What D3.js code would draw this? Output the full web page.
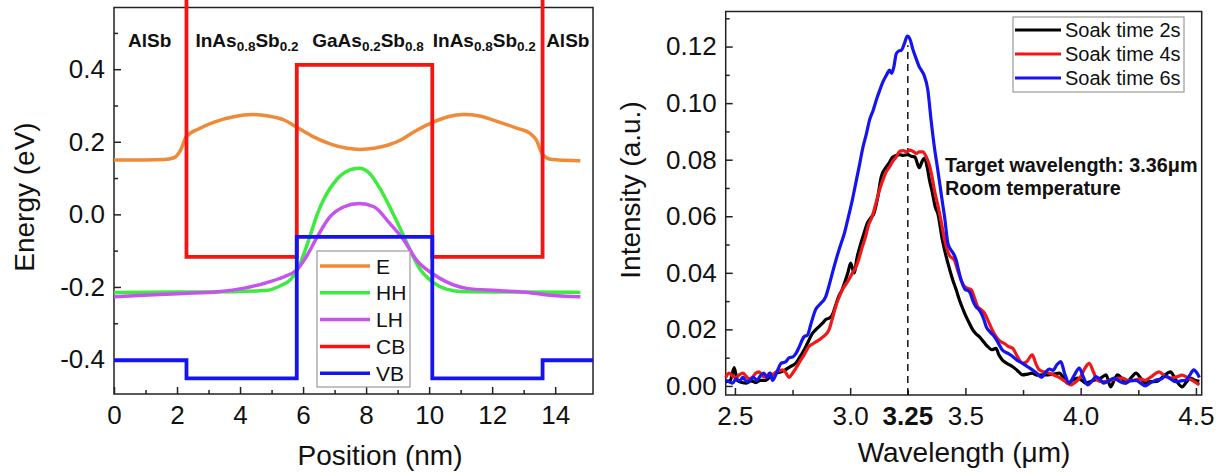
<!DOCTYPE html>
<html>
<head>
<meta charset="utf-8">
<script src="https://cdn.jsdelivr.net/npm/d3@7"></script>
<style>
  body { margin: 0; background: #fff; }
  svg { display: block; font-family: "Liberation Sans", Arial, sans-serif; }
</style>
</head>
<body>
<script>
const width = 1226,
    height = 473;

// ---- band diagram data (left) ----
const layerEdges = [0, 2.3, 5.8, 10.1, 13.6, 15.2];
const cbLevels = [1.2, -0.117, 0.412, -0.117, 1.2];
const vbLevels = [-0.402, -0.452, -0.062, -0.452, -0.402];
const layerNames = ["AlSb", "InAs{0.8}Sb{0.2}", "GaAs{0.2}Sb{0.8}", "InAs{0.8}Sb{0.2}", "AlSb"];
const layerLabelPos = [1.13, 4.22, 8.06, 11.75, 14.4];

const ePos = [0, 1.0, 1.6, 1.9, 2.1, 2.3, 2.7, 3.2, 3.8, 4.4, 4.9, 5.4, 5.8, 6.3, 6.9, 7.4, 7.8, 8.3, 8.7, 9.1, 9.5, 9.9, 10.1, 10.6, 11.1, 11.6, 12.2, 12.8, 13.2, 13.4, 13.6, 13.9, 14.3, 14.8];
const eVal = [0.150, 0.150, 0.151, 0.156, 0.175, 0.215, 0.236, 0.255, 0.269, 0.275, 0.271, 0.260, 0.240, 0.215, 0.193, 0.182, 0.179, 0.183, 0.191, 0.205, 0.226, 0.245, 0.253, 0.269, 0.275, 0.271, 0.255, 0.237, 0.223, 0.205, 0.165, 0.151, 0.149, 0.148];

const hhPos = [0, 2, 3.8, 4.8, 5.3, 5.6, 5.8, 6.0, 6.2, 6.45, 6.65, 7.05, 7.45, 7.78, 8.1, 8.5, 8.95, 9.3, 9.7, 10.1, 10.55, 11.1, 12.5, 14.8];
const hhVal = [-0.215, -0.214, -0.213, -0.210, -0.196, -0.180, -0.155, -0.115, -0.065, 0.000, 0.040, 0.094, 0.121, 0.127, 0.114, 0.062, -0.015, -0.080, -0.150, -0.186, -0.206, -0.213, -0.214, -0.215];

const lhPos = [0, 1.1, 2.2, 3.3, 4.1, 4.85, 5.4, 5.8, 6.1, 6.45, 6.85, 7.3, 7.78, 8.25, 8.75, 9.2, 9.6, 10.1, 10.55, 11.2, 12.15, 13.2, 13.75, 14.8];
const lhVal = [-0.227, -0.222, -0.218, -0.213, -0.204, -0.188, -0.172, -0.153, -0.117, -0.062, -0.007, 0.021, 0.030, 0.021, -0.025, -0.071, -0.126, -0.163, -0.186, -0.204, -0.210, -0.216, -0.222, -0.227];

const bandNames = ["E", "HH", "LH", "CB", "VB"];
const bandColors = ["#ef8a38", "#3fea3f", "#c653ef", "#f41414", "#1414f0"];

// ---- PL spectra data (right) ----
const wl2s = [2.46, 2.48, 2.497, 2.51, 2.53, 2.55, 2.57, 2.59, 2.61, 2.634, 2.655, 2.677, 2.70, 2.72, 2.74, 2.764, 2.78, 2.80, 2.82, 2.836, 2.85, 2.865, 2.88, 2.894, 2.91, 2.923, 2.935, 2.95, 2.965, 2.98, 2.99, 3.002, 3.017, 3.03, 3.045, 3.06, 3.074, 3.09, 3.103, 3.118, 3.135, 3.157, 3.17, 3.185, 3.20, 3.214, 3.23, 3.25, 3.265, 3.28, 3.30, 3.31, 3.32, 3.335, 3.344, 3.355, 3.37, 3.38, 3.40, 3.424, 3.445, 3.46, 3.474, 3.49, 3.503, 3.518, 3.532, 3.545, 3.56, 3.58, 3.597, 3.615, 3.633, 3.645, 3.66, 3.68, 3.705, 3.725, 3.748, 3.77, 3.79, 3.81, 3.835, 3.85, 3.88, 3.907, 3.925, 3.943, 3.965, 3.986, 4.005, 4.022, 4.04, 4.058, 4.08, 4.095, 4.11, 4.13, 4.145, 4.16, 4.18, 4.196, 4.22, 4.24, 4.26, 4.28, 4.30, 4.33, 4.36, 4.39, 4.41, 4.44, 4.46, 4.477, 4.495, 4.515];
const int2s = [0.0015, 0.002, 0.0065, 0.002, 0.0012, 0.001, 0.0018, 0.0012, 0.002, 0.002, 0.0035, 0.0045, 0.005, 0.0058, 0.0068, 0.008, 0.010, 0.0127, 0.016, 0.0186, 0.0198, 0.021, 0.0222, 0.0235, 0.024, 0.0252, 0.028, 0.0316, 0.034, 0.0375, 0.040, 0.0434, 0.040, 0.0455, 0.050, 0.054, 0.0575, 0.0595, 0.061, 0.066, 0.074, 0.0775, 0.079, 0.081, 0.0815, 0.0818, 0.0815, 0.0818, 0.0812, 0.081, 0.0772, 0.079, 0.0805, 0.077, 0.0728, 0.069, 0.063, 0.061, 0.0516, 0.0434, 0.0375, 0.034, 0.0304, 0.027, 0.0245, 0.022, 0.0198, 0.0185, 0.0174, 0.0155, 0.0139, 0.0128, 0.0133, 0.011, 0.0092, 0.008, 0.0068, 0.0055, 0.0039, 0.0042, 0.0045, 0.0038, 0.0039, 0.0039, 0.0042, 0.0045, 0.003, 0.001, 0.002, 0.0028, 0.002, 0.001, 0.0015, 0.002, 0.0025, 0.0032, 0.0039, -0.0003, 0.002, 0.0039, 0.0025, 0.001, 0.003, 0.0045, 0.0028, 0.001, 0.0015, 0.0016, 0.0035, 0.005, 0.0025, -0.0003, 0.0015, 0.0028, 0.002, 0.0016];

const wl4s = [2.46, 2.475, 2.49, 2.505, 2.52, 2.535, 2.548, 2.56, 2.575, 2.59, 2.605, 2.62, 2.635, 2.65, 2.663, 2.68, 2.695, 2.706, 2.72, 2.735, 2.75, 2.77, 2.786, 2.80, 2.82, 2.84, 2.865, 2.885, 2.908, 2.92, 2.937, 2.95, 2.966, 2.99, 3.01, 3.025, 3.038, 3.052, 3.067, 3.08, 3.096, 3.113, 3.13, 3.142, 3.155, 3.171, 3.185, 3.20, 3.215, 3.23, 3.245, 3.258, 3.272, 3.287, 3.30, 3.315, 3.33, 3.344, 3.355, 3.366, 3.38, 3.395, 3.41, 3.43, 3.452, 3.466, 3.481, 3.495, 3.51, 3.525, 3.54, 3.553, 3.568, 3.582, 3.604, 3.618, 3.633, 3.65, 3.669, 3.685, 3.705, 3.725, 3.748, 3.765, 3.79, 3.805, 3.82, 3.84, 3.864, 3.88, 3.90, 3.93, 3.958, 3.98, 4.0, 4.02, 4.037, 4.055, 4.073, 4.095, 4.12, 4.15, 4.18, 4.205, 4.23, 4.255, 4.28, 4.31, 4.34, 4.365, 4.39, 4.415, 4.44, 4.462, 4.484, 4.50, 4.515];
const int4s = [0.003, 0.0045, 0.0035, 0.003, 0.004, 0.0045, 0.0035, 0.0025, 0.003, 0.0045, 0.005, 0.0035, 0.003, 0.0045, 0.004, 0.005, 0.0055, 0.0057, 0.0048, 0.003, 0.0045, 0.007, 0.0092, 0.011, 0.0139, 0.015, 0.0163, 0.0175, 0.0198, 0.023, 0.028, 0.031, 0.034, 0.037, 0.040, 0.042, 0.045, 0.049, 0.0528, 0.057, 0.060, 0.065, 0.070, 0.0728, 0.0755, 0.0775, 0.0795, 0.081, 0.083, 0.0832, 0.0828, 0.0834, 0.083, 0.0822, 0.0828, 0.0828, 0.081, 0.078, 0.074, 0.069, 0.064, 0.058, 0.0516, 0.0462, 0.0445, 0.041, 0.0375, 0.0352, 0.0345, 0.034, 0.031, 0.028, 0.027, 0.0258, 0.022, 0.0195, 0.0174, 0.0158, 0.015, 0.014, 0.0133, 0.0105, 0.008, 0.0085, 0.011, 0.008, 0.0057, 0.005, 0.0045, 0.004, 0.0033, 0.0018, 0.0004, 0.0015, 0.0033, 0.0065, 0.008, 0.005, 0.002, 0.0015, 0.0018, 0.0025, 0.0028, 0.002, 0.002, 0.0025, 0.002, 0.0035, 0.005, 0.0035, 0.0028, 0.0032, 0.0038, 0.003, 0.002, 0.0012, 0.0004];

const wl6s = [2.46, 2.475, 2.49, 2.505, 2.52, 2.535, 2.55, 2.565, 2.58, 2.595, 2.61, 2.625, 2.64, 2.652, 2.663, 2.675, 2.69, 2.70, 2.72, 2.735, 2.75, 2.765, 2.78, 2.80, 2.815, 2.83, 2.85, 2.87, 2.894, 2.91, 2.923, 2.94, 2.959, 2.975, 2.99, 3.01, 3.027, 3.04, 3.056, 3.07, 3.084, 3.1, 3.113, 3.128, 3.142, 3.158, 3.171, 3.18, 3.19, 3.20, 3.212, 3.222, 3.235, 3.248, 3.26, 3.272, 3.285, 3.30, 3.31, 3.32, 3.337, 3.351, 3.366, 3.377, 3.387, 3.40, 3.41, 3.424, 3.438, 3.45, 3.46, 3.47, 3.481, 3.49, 3.50, 3.51, 3.52, 3.533, 3.546, 3.558, 3.568, 3.58, 3.59, 3.608, 3.626, 3.645, 3.66, 3.685, 3.705, 3.725, 3.748, 3.77, 3.79, 3.81, 3.83, 3.845, 3.864, 3.88, 3.897, 3.914, 3.93, 3.95, 3.97, 3.994, 4.01, 4.03, 4.05, 4.066, 4.085, 4.10, 4.125, 4.145, 4.165, 4.188, 4.215, 4.24, 4.26, 4.28, 4.30, 4.325, 4.35, 4.37, 4.39, 4.41, 4.435, 4.455, 4.475, 4.49, 4.505, 4.515];
const int6s = [0.002, 0.0015, 0.001, 0.0025, 0.0018, 0.003, 0.0015, 0.002, 0.003, 0.002, 0.0035, 0.0045, 0.003, 0.0045, 0.002, 0.0035, 0.0065, 0.008, 0.0085, 0.010, 0.0102, 0.0115, 0.014, 0.0174, 0.018, 0.022, 0.027, 0.029, 0.0316, 0.036, 0.040, 0.045, 0.050, 0.054, 0.059, 0.066, 0.0728, 0.078, 0.0846, 0.089, 0.094, 0.0975, 0.101, 0.1045, 0.1075, 0.110, 0.1117, 0.1105, 0.113, 0.1175, 0.1185, 0.1187, 0.121, 0.1237, 0.1225, 0.119, 0.116, 0.1128, 0.1115, 0.110, 0.1046, 0.094, 0.084, 0.078, 0.0725, 0.065, 0.0595, 0.0504, 0.048, 0.0465, 0.0445, 0.041, 0.0375, 0.0355, 0.034, 0.0338, 0.033, 0.030, 0.028, 0.027, 0.0258, 0.0235, 0.021, 0.019, 0.0174, 0.0148, 0.0127, 0.0115, 0.0104, 0.009, 0.008, 0.0068, 0.0057, 0.0045, 0.003, 0.0045, 0.006, 0.0055, 0.0075, 0.0086, 0.0045, 0.001, 0.0035, 0.0063, 0.0035, 0.0004, 0.0018, 0.0033, 0.0022, 0.001, 0.002, 0.0028, 0.0018, 0.001, 0.0018, 0.002, 0.001, 0.0, 0.001, 0.002, 0.0025, 0.0035, 0.0025, 0.0015, 0.0018, 0.002, 0.004, 0.0057, 0.0045, 0.003];

const seriesNames = ["Soak time 2s", "Soak time 4s", "Soak time 6s"];
const seriesColors = ["#000000", "#f01818", "#1414f0"];
const peakWavelength = 3.25;
const noteLines = ["Target wavelength: 3.36\u03bcm", "Room temperature"];

const svg = d3.select("body").append("svg")
    .attr("width", width)
    .attr("height", height);

// style an axis group: thick inward ticks, big labels, no domain path
function styleAxis(g, fontSize) {
    g.attr("font-size", null).attr("font-family", null);
    g.select(".domain").remove();
    g.selectAll(".tick line").attr("stroke", "#222").attr("stroke-width", 1.5);
    g.selectAll(".tick text").attr("fill", "#111").style("font-size", fontSize + "px");
}

const fmtDash = f => v => f(v).replace("\u2212", "-");

// =============== LEFT PANEL ===============
const xPos = d3.scaleLinear().domain([0, 15.2]).range([114, 593]);
const yEn = d3.scaleLinear().domain([-0.495, 0.57]).range([394, 7.5]);

svg.append("g").attr("transform", "translate(0,394)")
    .call(d3.axisBottom(xPos).tickValues(d3.range(1, 15, 2)).tickSize(-4).tickFormat(""))
    .call(g => styleAxis(g, 26));
svg.append("g").attr("transform", "translate(0,394)")
    .call(d3.axisBottom(xPos).tickValues(d3.range(0, 15, 2)).tickSize(-7).tickPadding(12).tickFormat(d3.format("d")))
    .call(g => styleAxis(g, 26));
svg.append("g").attr("transform", "translate(114,0)")
    .call(d3.axisLeft(yEn).tickValues([-0.3, -0.1, 0.1, 0.3, 0.5]).tickSize(-4).tickFormat(""))
    .call(g => styleAxis(g, 26));
svg.append("g").attr("transform", "translate(114,0)")
    .call(d3.axisLeft(yEn).tickValues([-0.4, -0.2, 0, 0.2, 0.4]).tickSize(-7).tickPadding(9).tickFormat(fmtDash(d3.format(".1f"))))
    .call(g => styleAxis(g, 26));

svg.append("rect")
    .attr("x", xPos(0)).attr("y", yEn(0.57))
    .attr("width", xPos(15.2) - xPos(0)).attr("height", yEn(-0.495) - yEn(0.57))
    .attr("fill", "none").attr("stroke", "#222").attr("stroke-width", 1.5);

const bandLine = d3.line().x(d => xPos(d[0])).y(d => yEn(d[1]));

function stepPoints(levels) {
    const pts = [];
    levels.forEach((v, i) => {
        pts.push([layerEdges[i], v]);
        pts.push([layerEdges[i + 1], v]);
    });
    return pts;
}

const bands = [
    { pts: d3.zip(ePos, eVal), curve: d3.curveMonotoneX },
    { pts: d3.zip(hhPos, hhVal), curve: d3.curveMonotoneX },
    { pts: d3.zip(lhPos, lhVal), curve: d3.curveMonotoneX },
    { pts: stepPoints(cbLevels), curve: d3.curveLinear },
    { pts: stepPoints(vbLevels), curve: d3.curveLinear }
];

svg.selectAll(".band")
    .data(bands)
    .enter()
    .append("path")
    .attr("class", "band")
    .attr("d", d => bandLine.curve(d.curve)(d.pts))
    .attr("fill", "none")
    .attr("stroke", (d, i) => bandColors[i])
    .attr("stroke-width", (d, i) => i < 3 ? 3.5 : 3.8);

// layer labels with subscripts
svg.selectAll(".layer")
    .data(layerNames)
    .enter()
    .append("text")
    .attr("class", "layer")
    .attr("x", (d, i) => xPos(layerLabelPos[i]))
    .attr("y", 47)
    .attr("text-anchor", "middle")
    .attr("font-weight", "bold")
    .attr("font-size", 19)
    .attr("fill", "#111")
    .each(function(d) {
        const t = d3.select(this);
        let sub = false;
        d.split(/[{}]/).forEach((s, k) => {
            if (!s.length) return;
            const isSub = k % 2 === 1;
            t.append("tspan")
                .attr("font-size", isSub ? 13.5 : 19)
                .attr("dy", isSub && !sub ? 4 : (!isSub && sub ? -4 : 0))
                .text(s);
            sub = isSub;
        });
    });

// band legend
const legL = svg.append("g");
legL.append("rect")
    .attr("x", 317).attr("y", 251).attr("width", 93).attr("height", 136)
    .attr("fill", "#fff").attr("stroke", "#999").attr("stroke-width", 1.2);
bandNames.forEach((name, i) => {
    const y = 266 + i * 26.8;
    legL.append("line")
        .attr("x1", 320).attr("x2", 370).attr("y1", y).attr("y2", y)
        .attr("stroke", bandColors[i]).attr("stroke-width", 3.5);
    legL.append("text")
        .attr("x", 376).attr("y", y + 7.5)
        .attr("font-size", 21).attr("fill", "#111")
        .text(name);
});

svg.append("text")
    .attr("transform", "translate(34,197) rotate(-90)")
    .attr("text-anchor", "middle")
    .attr("font-size", 28).attr("fill", "#111")
    .text("Energy (eV)");
svg.append("text")
    .attr("x", 380).attr("y", 465)
    .attr("text-anchor", "middle")
    .attr("font-size", 28).attr("fill", "#111")
    .text("Position (nm)");

// =============== RIGHT PANEL ===============
const xWl = d3.scaleLinear().domain([2.46, 4.525]).range([725.7, 1201.7]);
const yInt = d3.scaleLinear().domain([-0.0032, 0.1324]).range([395, 11.5]);

svg.append("g").attr("transform", "translate(0,395)")
    .call(d3.axisBottom(xWl).tickValues([2.75, 3.25, 3.75, 4.25]).tickSize(-5).tickFormat(""))
    .call(g => styleAxis(g, 26));
svg.append("g").attr("transform", "translate(0,395)")
    .call(d3.axisBottom(xWl).tickValues([2.5, 3.0, 3.5, 4.0, 4.5]).tickSize(-7).tickPadding(12).tickFormat(d3.format(".1f")))
    .call(g => styleAxis(g, 26));
svg.append("g").attr("transform", "translate(725.7,0)")
    .call(d3.axisLeft(yInt).tickValues(d3.range(0.01, 0.135, 0.02)).tickSize(-4).tickFormat(""))
    .call(g => styleAxis(g, 26));
svg.append("g").attr("transform", "translate(725.7,0)")
    .call(d3.axisLeft(yInt).tickValues(d3.range(0, 0.125, 0.02)).tickSize(-7).tickPadding(9).tickFormat(d3.format(".2f")))
    .call(g => styleAxis(g, 26));

// bold label of the peak wavelength
svg.append("text")
    .attr("x", xWl(peakWavelength)).attr("y", 395 + 12).attr("dy", "0.71em")
    .attr("text-anchor", "middle")
    .attr("font-weight", "bold").attr("font-size", 26).attr("fill", "#111")
    .text(d3.format(".2f")(peakWavelength));

svg.append("rect")
    .attr("x", xWl(2.46)).attr("y", yInt(0.1324))
    .attr("width", xWl(4.525) - xWl(2.46)).attr("height", yInt(-0.0032) - yInt(0.1324))
    .attr("fill", "none").attr("stroke", "#222").attr("stroke-width", 1.5);

// dashed marker at the peak
svg.append("line")
    .attr("x1", xWl(peakWavelength)).attr("x2", xWl(peakWavelength))
    .attr("y1", yInt(-0.0032)).attr("y2", yInt(0.1205))
    .attr("stroke", "#111").attr("stroke-width", 1.5)
    .attr("stroke-dasharray", "7,5");

const spectra = [d3.zip(wl2s, int2s), d3.zip(wl4s, int4s), d3.zip(wl6s, int6s)];
const specLine = d3.line()
    .x(d => xWl(d[0]))
    .y(d => yInt(d[1]))
    .curve(d3.curveMonotoneX);

svg.selectAll(".spec")
    .data(spectra)
    .enter()
    .append("path")
    .attr("class", "spec")
    .attr("d", specLine)
    .attr("fill", "none")
    .attr("stroke", (d, i) => seriesColors[i])
    .attr("stroke-width", 3.2)
    .attr("stroke-linejoin", "round");

// annotation
svg.selectAll(".note")
    .data(noteLines)
    .enter()
    .append("text")
    .attr("class", "note")
    .attr("x", 945)
    .attr("y", (d, i) => 171.5 + i * 23.5)
    .attr("font-weight", "bold").attr("font-size", 19.8).attr("fill", "#111")
    .text(d => d);

// series legend
const legR = svg.append("g");
legR.append("rect")
    .attr("x", 1013).attr("y", 17).attr("width", 171).attr("height", 75)
    .attr("fill", "#fff").attr("stroke", "#999").attr("stroke-width", 1.2);
seriesNames.forEach((name, i) => {
    const y = 30 + i * 24;
    legR.append("line")
        .attr("x1", 1015).attr("x2", 1061).attr("y1", y).attr("y2", y)
        .attr("stroke", seriesColors[i]).attr("stroke-width", 3.2);
    legR.append("text")
        .attr("x", 1065).attr("y", y + 7)
        .attr("font-size", 20).attr("fill", "#111")
        .text(name);
});

svg.append("text")
    .attr("transform", "translate(640,190) rotate(-90)")
    .attr("text-anchor", "middle")
    .attr("font-size", 28).attr("fill", "#111")
    .text("Intensity (a.u.)");
svg.append("text")
    .attr("x", 964).attr("y", 462)
    .attr("text-anchor", "middle")
    .attr("font-size", 28).attr("fill", "#111")
    .text("Wavelength (\u03bcm)");
</script>
</body>
</html>
